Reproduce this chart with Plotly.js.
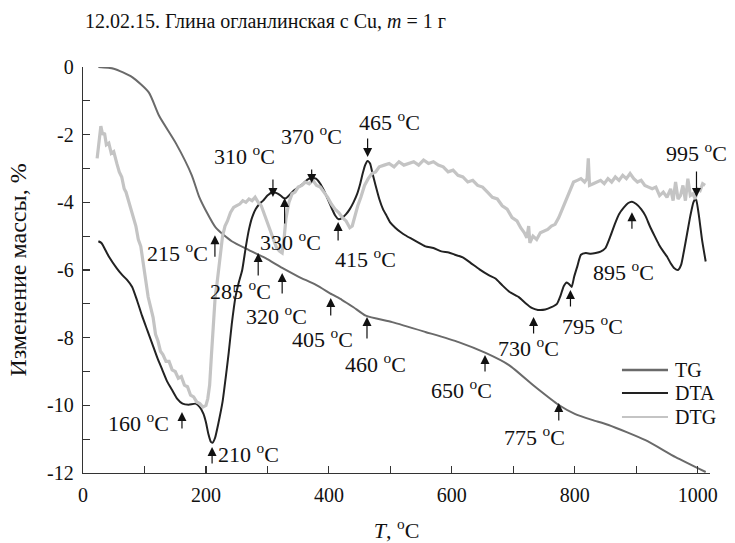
<!DOCTYPE html>
<html>
<head>
<meta charset="utf-8">
<script src="https://cdn.plot.ly/plotly-3.0.1.min.js"></script>
<style>html,body{margin:0;padding:0;background:#fff;}#chart{width:735px;height:543px;}</style>
</head>
<body>
<div id="chart"></div>
<script>
// ---------- data ----------
const seriesNames = ['TG', 'DTA', 'DTG'];

const tgT = [25, 50, 80, 107, 124, 151, 177, 189, 200, 216, 242, 270, 297, 324, 351, 379, 405, 421, 440, 460, 503, 557, 611, 655, 693, 736, 774, 800, 828, 855, 915, 964, 1013];
const tgV = [0, -0.05, -0.3, -0.75, -1.45, -2.25, -3.2, -3.84, -4.25, -4.75, -5.15, -5.41, -5.65, -5.94, -6.2, -6.44, -6.72, -6.88, -7.1, -7.35, -7.54, -7.83, -8.13, -8.45, -8.81, -9.46, -9.99, -10.25, -10.43, -10.58, -11.03, -11.53, -11.97];

const dtaT = [25, 30, 42, 55, 64, 72, 80, 88, 96, 105, 113, 121, 129, 137, 145, 153, 162, 172, 183, 190, 196, 200, 204, 208, 211, 215, 220, 227, 232, 237, 242, 248, 253, 259, 265, 270, 275, 281, 287, 293, 300, 308, 314, 320, 326, 330, 336, 343, 351, 358, 365, 372, 379, 386, 392, 398, 404, 410, 416, 422, 428, 434, 440, 446, 451, 455, 459, 463, 467, 471, 476, 482, 488, 494, 500, 508, 516, 525, 535, 545, 557, 570, 583, 595, 605, 617, 630, 645, 660, 671, 682, 694, 709, 720, 730, 740, 752, 762, 771, 777, 782, 787, 791, 795, 799, 804, 810, 818, 826, 834, 842, 850, 858, 865, 872, 880, 887, 893, 900, 908, 915, 922, 930, 937, 944, 950, 956, 962, 968, 973, 978, 983, 988, 993, 997, 1002, 1007, 1013];
const dtaV = [-5.15, -5.2, -5.6, -5.95, -6.15, -6.3, -6.5, -6.9, -7.35, -7.8, -8.2, -8.6, -8.95, -9.3, -9.55, -9.8, -9.95, -9.98, -9.95, -10.05, -10.25, -10.5, -10.85, -11.08, -11.1, -10.95, -10.55, -9.9, -9.2, -8.45, -7.6, -6.8, -6.4, -6.0, -5.3, -4.8, -4.45, -4.2, -4.05, -3.95, -3.8, -3.7, -3.72, -3.78, -3.87, -3.88, -3.78, -3.65, -3.55, -3.45, -3.33, -3.28, -3.3, -3.45, -3.65, -3.9, -4.15, -4.38, -4.5, -4.45, -4.35, -4.2, -4.0, -3.75, -3.45, -3.15, -2.9, -2.78, -2.85, -3.15, -3.5, -3.9, -4.2, -4.4, -4.6, -4.75, -4.87, -4.98, -5.08, -5.18, -5.3, -5.35, -5.45, -5.48, -5.55, -5.62, -5.78, -5.98, -6.15, -6.25, -6.45, -6.65, -6.8, -6.98, -7.12, -7.18, -7.17, -7.1, -7.0, -6.75, -6.48, -6.37, -6.42, -6.5, -6.2, -5.9, -5.55, -5.5, -5.52, -5.5, -5.46, -5.35, -5.0, -4.65, -4.35, -4.15, -4.02, -3.98, -4.05, -4.2, -4.4, -4.7, -5.0, -5.25, -5.45, -5.6, -5.8, -5.95, -6.0, -5.85, -5.4, -4.9, -4.4, -4.0, -3.88, -4.4, -5.1, -5.75];

const dtgT = [23, 26, 29, 32, 35, 38, 42, 46, 50, 55, 59, 63, 67, 70, 74, 78, 82, 86, 90, 94, 98, 102, 106, 110, 114, 118, 122, 126, 130, 135, 140, 145, 150, 155, 160, 165, 170, 175, 180, 185, 190, 195, 200, 203, 206, 209, 212, 215, 218, 221, 224, 227, 231, 235, 240, 245, 250, 255, 260, 265, 270, 275, 280, 285, 290, 295, 300, 305, 310, 315, 320, 324, 327, 330, 335, 340, 345, 350, 356, 362, 368, 374, 380, 386, 392, 398, 404, 410, 416, 422, 428, 434, 438, 442, 447, 452, 458, 464, 470, 476, 482, 490, 498, 506, 514, 522, 530, 538, 546, 554, 562, 570, 578, 586, 594, 602, 610, 618, 626, 634, 642, 650, 658, 666, 674, 682, 690, 698, 706, 712, 718, 722, 725, 727, 732, 738, 744, 750, 756, 762, 768, 774, 780, 786, 792, 798, 804, 810, 816, 820, 822, 824, 830, 836, 842, 848, 854, 860, 866, 872, 878, 884, 890, 896, 902, 908, 914, 920, 926, 932, 938, 944, 950, 956, 960, 964, 968, 972, 976, 980, 984, 988, 992, 996, 1000, 1004, 1008, 1012];
const dtgV = [-2.7, -2.3, -1.75, -2.0, -1.95, -2.3, -2.25, -2.55, -2.5, -2.85, -3.1, -3.25, -3.6, -3.7, -3.95, -4.2, -4.5, -4.7, -5.1, -5.3, -5.8, -6.3, -6.8, -7.1, -7.4, -7.9, -8.1, -8.4, -8.5, -8.7, -8.7, -8.95, -9.0, -9.2, -9.15, -9.4, -9.45, -9.7, -9.75, -9.9, -9.95, -10.05, -10.0, -9.8, -9.4, -8.5, -7.6, -6.8, -6.4, -5.9, -5.5, -5.0, -4.7, -4.55, -4.3, -4.15, -4.1, -4.05, -3.95, -4.0, -3.9, -3.95, -3.85, -4.0, -4.1, -4.35, -4.6, -4.9, -5.15, -5.35, -5.45, -5.5, -5.1, -4.5, -4.0, -3.75, -3.7, -3.55, -3.5, -3.4, -3.45, -3.35, -3.5, -3.55, -3.7, -3.85, -4.05, -4.2, -4.3, -4.45, -4.55, -4.75, -4.7, -4.4, -4.1, -3.85, -3.5, -3.3, -3.15, -3.1, -2.95, -2.9, -2.85, -2.95, -2.8, -2.9, -2.85, -2.8, -2.9, -2.75, -2.85, -2.8, -2.9, -2.95, -3.1, -3.05, -3.2, -3.25, -3.4, -3.35, -3.5, -3.55, -3.7, -3.85, -3.9, -4.1, -4.2, -4.45, -4.55, -4.75, -4.9, -5.05, -4.7, -5.2, -5.0, -5.1, -4.9, -4.85, -4.8, -4.7, -4.65, -4.45, -4.2, -3.9, -3.65, -3.4, -3.35, -3.3, -3.4, -3.3, -2.7, -3.5, -3.45, -3.4, -3.35, -3.45, -3.3, -3.4, -3.25, -3.35, -3.2, -3.3, -3.15, -3.3, -3.4, -3.35, -3.5, -3.55, -3.6, -3.55, -3.8, -3.7, -3.85, -3.6, -3.95, -3.4, -3.9, -3.8, -3.5, -3.95, -3.3, -3.8, -3.75, -3.9, -3.6, -3.65, -3.45, -3.5];

const xTickVals = [0, 200, 400, 600, 800, 1000];
const xTickText = ['0', '200', '400', '600', '800', '1000'];
const xMinorVals = [100, 300, 500, 700, 900];
const yTickVals = [-12, -10, -8, -6, -4, -2, 0];
const yTickText = ['-12', '-10', '-8', '-6', '-4', '-2', '0'];
const yMinorVals = [-11, -9, -7, -5, -3, -1];

// peak labels (°C)
const peakLabels = ['215', '310', '370', '330', '415', '465', '995', '895', '795', '730', '650', '775', '460', '405', '320', '285', '160', '210'];

// ---------- layout helpers (positions / styles) ----------
const FONT = "'Liberation Serif', 'Times New Roman', 'DejaVu Serif', serif";
const labelPos = [[153,-5.47],[262,-2.6],[371,-2.01],[338,-5.14],[459,-5.65],[498,-1.6],[998,-2.51],[880,-6.03],[829,-7.63],[725,-8.28],[616,-9.52],[735,-10.91],[476,-8.76],[389,-8.0],[315,-7.33],[257,-6.59],[91,-10.49],[270,-11.41]];
const arrowTip = [[214.6,-4.97],[309,-3.84],[372,-3.43],[328,-3.87],[415,-4.58],[463,-2.66],[998,-3.84],[893,-4.29],[793,-6.59],[733,-7.39],[654,-8.51],[774,-9.93],[462,-7.39],[403,-6.83],[324,-6.09],[285,-5.5],[161,-10.2],[210,-11.23]];
const arrowOff = [23,-19,-15,27,20,-20,-27,18,18,18,18,19,23,19,22,24,18,18];

const colors = ['#6a6a6a', '#222222', '#c4c4c4'];
const widths = [2, 2, 3.2];
const legendY = [0.2537, 0.197, 0.138];

const annotations = [];
const shapes = [];
peakLabels.forEach((lab, i) => {
  annotations.push({x: arrowTip[i][0], y: arrowTip[i][1], xref: 'x', yref: 'y', text: '', showarrow: true,
    ax: 0, ay: arrowOff[i], arrowhead: 2, arrowsize: 1.5, arrowwidth: 1.2, arrowcolor: '#111', standoff: 0});
  annotations.push({x: labelPos[i][0], y: labelPos[i][1], xref: 'x', yref: 'y', text: lab + ' <sup>o</sup>C',
    showarrow: false, font: {family: FONT, size: 22, color: '#111'}});
});
// manual legend (long line samples as in the reference)
seriesNames.forEach((nm, i) => {
  shapes.push({type: 'line', xref: 'paper', yref: 'paper', x0: 0.8596, x1: 0.933, y0: legendY[i], y1: legendY[i],
    line: {color: colors[i], width: i === 0 ? 2.5 : 2}});
  annotations.push({x: 0.941, y: legendY[i], xref: 'paper', yref: 'paper', xanchor: 'left', yanchor: 'middle',
    text: nm, showarrow: false, font: {family: FONT, size: 20, color: '#111'}});
});

const traces = [
  {x: tgT, y: tgV, name: seriesNames[0], mode: 'lines', line: {color: colors[0], width: widths[0], shape: 'spline', smoothing: 0.6}},
  {x: dtaT, y: dtaV, name: seriesNames[1], mode: 'lines', line: {color: colors[1], width: widths[1], shape: 'spline', smoothing: 0.5}},
  {x: dtgT, y: dtgV, name: seriesNames[2], mode: 'lines', line: {color: colors[2], width: widths[2]}}
];

const axisCommon = {showgrid: false, zeroline: false, showline: true, linecolor: '#333', linewidth: 1.3,
  ticks: 'inside', ticklen: 7, tickwidth: 1.2, tickcolor: '#333',
  tickfont: {family: FONT, size: 20, color: '#111'}, ticklabelstandoff: 4};

const layout = {
  width: 735, height: 543,
  margin: {l: 83, r: 25, t: 67, b: 70},
  paper_bgcolor: '#fff', plot_bgcolor: '#fff',
  font: {family: FONT, size: 20, color: '#111'},
  title: {text: '12.02.15. Глина огланлинская с Cu, <i>m</i> = 1 г', x: 85/735, xanchor: 'left', xref: 'container',
    y: 1 - 21/543, yanchor: 'middle', yref: 'container', font: {family: FONT, size: 20, color: '#111'}},
  xaxis: Object.assign({}, axisCommon, {range: [0, 1020], tickvals: xTickVals, ticktext: xTickText,
    minor: {tickvals: xMinorVals, ticks: 'inside', ticklen: 7, tickwidth: 1.2, tickcolor: '#333', showgrid: false},
    title: {text: '<i>T</i>, <sup>o</sup>C', font: {family: FONT, size: 22, color: '#111'}, standoff: 20}}),
  yaxis: Object.assign({}, axisCommon, {range: [-12, 0], tickvals: yTickVals, ticktext: yTickText,
    minor: {tickvals: yMinorVals, ticks: 'inside', ticklen: 7, tickwidth: 1.2, tickcolor: '#333', showgrid: false},
    title: {text: 'Изменение массы, %', font: {family: FONT, size: 24, color: '#111'}, standoff: 13}}),
  showlegend: false,
  shapes: shapes,
  annotations: annotations
};

Plotly.newPlot('chart', traces, layout, {displayModeBar: false, staticPlot: true});
</script>
</body>
</html>
